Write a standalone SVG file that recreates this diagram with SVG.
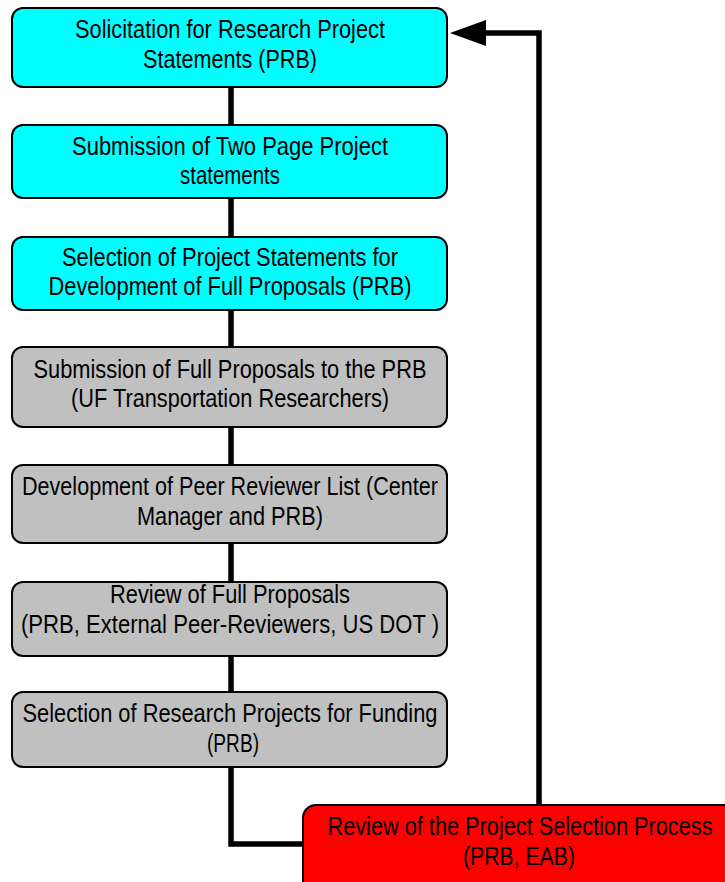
<svg xmlns="http://www.w3.org/2000/svg" width="725" height="882" viewBox="0 0 725 882">
<style>
.box{stroke:#000;stroke-width:2}
.cyan{fill:#00FFFF}
.gray{fill:#C0C0C0}
.red{fill:#FF0000}
.t{font-family:"Liberation Sans",Arial,sans-serif;font-size:25px;fill:#000;text-anchor:middle}
.c{fill:none;stroke:#000;stroke-width:5.5}
</style>
<rect width="725" height="882" fill="#fff"/>
<g id="connectors">
<path class="c" d="M231 87 V844 H303"/>
<path class="c" d="M539 805 V33 H484"/>
<polygon points="450,33 486,20 486,46" fill="#000"/>
</g>
<g id="n1">
<rect class="box cyan" x="12" y="8" width="435" height="79" rx="11"/>
<text class="t" x="230" y="38" textLength="310" lengthAdjust="spacingAndGlyphs">Solicitation for Research Project</text>
<text class="t" x="230" y="68" textLength="174" lengthAdjust="spacingAndGlyphs">Statements (PRB)</text>
</g>
<g id="n2">
<rect class="box cyan" x="12" y="125" width="435" height="73" rx="11"/>
<text class="t" x="230" y="155" textLength="316" lengthAdjust="spacingAndGlyphs">Submission of Two Page Project</text>
<text class="t" x="230" y="184" textLength="100" lengthAdjust="spacingAndGlyphs">statements</text>
</g>
<g id="n3">
<rect class="box cyan" x="12" y="237" width="435" height="73" rx="11"/>
<text class="t" x="230" y="266" textLength="336" lengthAdjust="spacingAndGlyphs">Selection of Project Statements for</text>
<text class="t" x="230" y="295" textLength="363" lengthAdjust="spacingAndGlyphs">Development of Full Proposals (PRB)</text>
</g>
<g id="n4">
<rect class="box gray" x="12" y="347" width="435" height="80" rx="11"/>
<text class="t" x="230" y="378" textLength="393" lengthAdjust="spacingAndGlyphs">Submission of Full Proposals to the PRB</text>
<text class="t" x="230" y="407" textLength="318" lengthAdjust="spacingAndGlyphs">(UF Transportation Researchers)</text>
</g>
<g id="n5">
<rect class="box gray" x="12" y="465" width="435" height="78" rx="11"/>
<text class="t" x="230" y="495" textLength="416" lengthAdjust="spacingAndGlyphs">Development of Peer Reviewer List (Center</text>
<text class="t" x="230" y="525" textLength="186" lengthAdjust="spacingAndGlyphs">Manager and PRB)</text>
</g>
<g id="n6">
<rect class="box gray" x="12" y="582" width="435" height="74" rx="11"/>
<text class="t" x="230" y="603" textLength="240" lengthAdjust="spacingAndGlyphs">Review of Full Proposals</text>
<text class="t" x="230" y="633" textLength="418" lengthAdjust="spacingAndGlyphs">(PRB, External Peer-Reviewers, US DOT )</text>
</g>
<g id="n7">
<rect class="box gray" x="12" y="692" width="435" height="75" rx="11"/>
<text class="t" x="230" y="722" textLength="415" lengthAdjust="spacingAndGlyphs">Selection of Research Projects for Funding</text>
<text class="t" x="233" y="752" textLength="52" lengthAdjust="spacingAndGlyphs">(PRB)</text>
</g>
<g id="n8">
<rect class="box red" x="303" y="805" width="440" height="90" rx="13"/>
<text class="t" x="520" y="835" textLength="385" lengthAdjust="spacingAndGlyphs">Review of the Project Selection Process</text>
<text class="t" x="519" y="865" textLength="112" lengthAdjust="spacingAndGlyphs">(PRB, EAB)</text>
</g>
</svg>
